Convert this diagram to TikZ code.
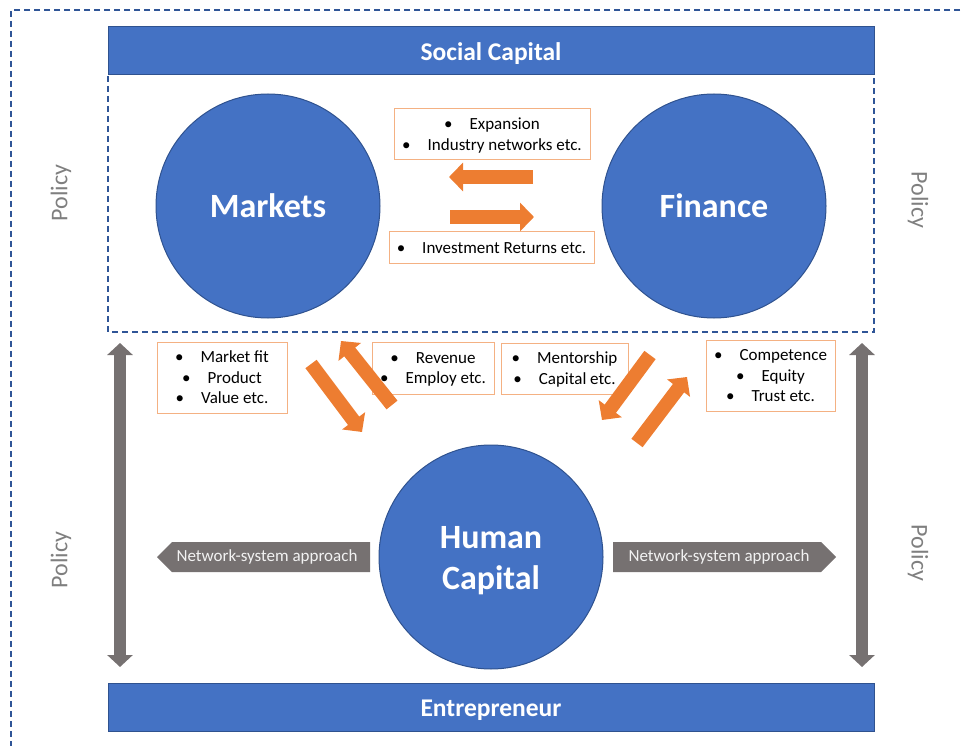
\documentclass[tikz,border=0pt]{standalone}
\usepackage{fontspec}
\setmainfont{Carlito}
\usetikzlibrary{arrows.meta}
\definecolor{mblue}{HTML}{4472C4}
\definecolor{dblue}{HTML}{2F528F}
\definecolor{dashblue}{HTML}{2F5597}
\definecolor{morange}{HTML}{ED7D31}
\definecolor{lorange}{HTML}{F4B183}
\definecolor{mgray}{HTML}{767171}
\definecolor{pgray}{HTML}{7F7F7F}
\newcommand{\mylines}[2]{\raisebox{#1}[\height][\depth]{\begin{tabular}{@{}c@{}}#2\end{tabular}}}
\newcommand{\myline}[2]{\raisebox{#1}[\height][\depth]{#2}}
\tikzset{
  bar/.style={draw=dblue,line width=1pt,fill=mblue,text=white,font=\fontsize{25.5}{28}\selectfont\bfseries},
  bigcirc/.style={circle,draw=dblue,line width=1pt,fill=mblue,text=white,minimum size=224pt,inner sep=0pt,align=center,font=\fontsize{34}{41}\selectfont\bfseries},
  infobox/.style={draw=lorange,line width=1pt,fill=white,align=center,inner sep=0pt,font=\fontsize{17}{20.5}\selectfont},
  flowarrow/.style={draw=morange,line width=14pt,-{Triangle[length=14pt,width=28pt]}},
  grayarrow/.style={draw=mgray,line width=12pt,{Triangle[length=12pt,width=25pt]}-{Triangle[length=12pt,width=25pt]}},
  netshape/.style={fill=mgray},
  nettext/.style={text=white!95!black,inner sep=0pt,font=\fontsize{17}{20}\selectfont},
  policy/.style={text=pgray,font=\fontsize{24}{28}\selectfont},
  dashline/.style={draw=dashblue,line width=1.2pt,dash pattern=on 6pt off 4pt}
}
\begin{document}
\begin{tikzpicture}[x=1pt,y=-1pt]
\useasboundingbox (0,0) rectangle (964,746);
% outer dashed border
\coordinate (oTL) at (11,10);
\coordinate (oTR) at (960,10);
\coordinate (oBL) at (11,746);
\draw[dashline] (oTR) -- (oTL) -- (oBL);
% inner dashed rectangle
\coordinate (iTL) at (108,76);
\coordinate (iBL) at (108,332);
\coordinate (iBR) at (874,332);
\coordinate (iTR) at (874,76);
\draw[dashline] (iTL) -- (iBL) -- (iBR) -- (iTR);
% bars
\node[bar,minimum width=766pt,minimum height=48pt] (social) at (491,51) {\myline{-3pt}{Social Capital}};
\node[bar,minimum width=766pt,minimum height=48pt] (entre) at (491,707) {\myline{-3pt}{Entrepreneur}};
% circles
\node[bigcirc] (markets) at (268,206) {Markets};
\node[bigcirc] (finance) at (714,206) {Finance};
\node[bigcirc] (human) at (491,557) {\mylines{-3.5pt}{Human\\Capital}};
% info boxes
\node[infobox,minimum width=196pt,minimum height=51pt] (b1) at (492,134.5) {\mylines{-1.5pt}{\textbullet\quad Expansion\\\textbullet\quad Industry networks etc.}};
\node[infobox,minimum width=205pt,minimum height=32pt] (b2) at (491.5,248) {\mylines{-1.5pt}{\textbullet\quad Investment Returns etc.}};
\node[infobox,minimum width=130pt,minimum height=71pt] (b3) at (222,377.5) {\mylines{-1.5pt}{\textbullet\quad Market fit\\\textbullet\quad Product\\\textbullet\quad Value etc.}};
\node[infobox,minimum width=122pt,minimum height=52pt] (b4) at (433,368) {\mylines{-1.5pt}{\textbullet\quad Revenue\\\textbullet\quad Employ etc.}};
\node[infobox,minimum width=127pt,minimum height=51pt] (b5) at (564.5,368.5) {\mylines{-1.5pt}{\textbullet\quad Mentorship\\\textbullet\quad Capital etc.}};
\node[infobox,minimum width=129pt,minimum height=71pt] (b6) at (770.5,375.5) {\mylines{-1.5pt}{\textbullet\quad Competence\\\textbullet\quad Equity\\\textbullet\quad Trust etc.}};
% orange arrows
\coordinate (h1s) at (533,177); \coordinate (h1e) at (449,177);
\coordinate (h2s) at (450,217); \coordinate (h2e) at (534,217);
\coordinate (dAs) at (311,364); \coordinate (dAe) at (362,432);
\coordinate (dBs) at (392,405); \coordinate (dBe) at (341,341);
\coordinate (dCs) at (650,355); \coordinate (dCe) at (602,420);
\coordinate (dDs) at (637,443); \coordinate (dDe) at (687,377);
\draw[flowarrow] (h1s) -- (h1e);
\draw[flowarrow] (h2s) -- (h2e);
\draw[flowarrow] (dAs) -- (dAe);
\draw[flowarrow] (dBs) -- (dBe);
\draw[flowarrow] (dCs) -- (dCe);
\draw[flowarrow] (dDs) -- (dDe);
% gray vertical arrows
\coordinate (gl1) at (120,343); \coordinate (gl2) at (120,667);
\coordinate (gr1) at (862,343); \coordinate (gr2) at (862,667);
\draw[grayarrow] (gl1) -- (gl2);
\draw[grayarrow] (gr1) -- (gr2);
% network-system arrows
\fill[netshape] (370,542) -- (172,542) -- (157,557) -- (172,572) -- (370,572) -- cycle;
\fill[netshape] (613,542) -- (821,542) -- (836,557) -- (821,572) -- (613,572) -- cycle;
\node[nettext] (netL) at (267,557) {Network-system approach};
\node[nettext] (netR) at (719,557) {Network-system approach};
% policy labels
\node[policy,rotate=90] (pol1) at (61,193) {Policy};
\node[policy,rotate=90] (pol2) at (61,560) {Policy};
\node[policy,rotate=-90] (pol3) at (918,200) {Policy};
\node[policy,rotate=-90] (pol4) at (918,553) {Policy};
\end{tikzpicture}
\end{document}
